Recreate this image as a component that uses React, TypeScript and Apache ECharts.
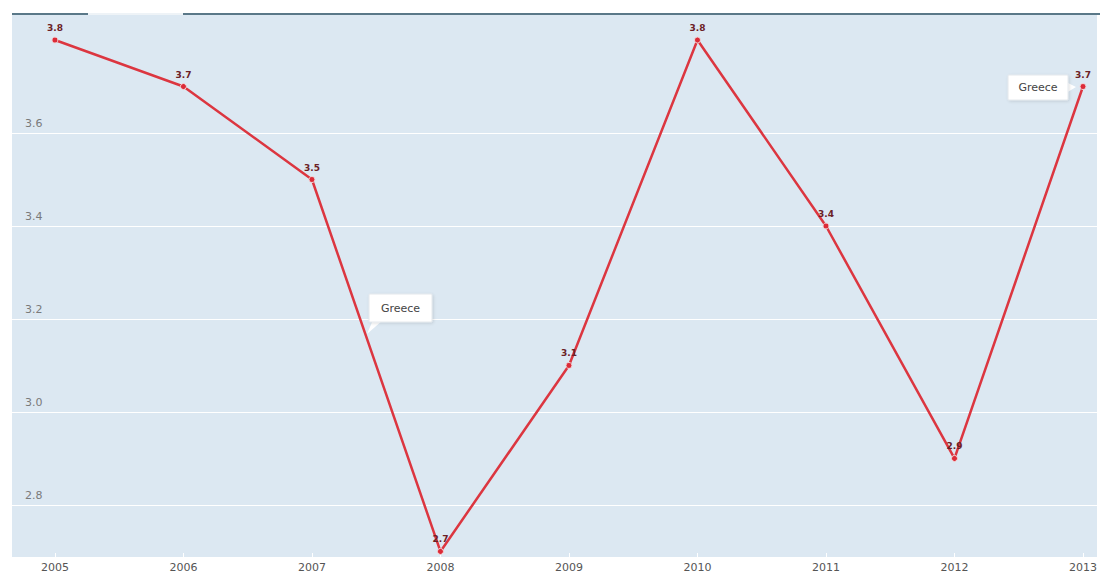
import React, { useEffect, useRef } from "react";
import * as echarts from "echarts";

const years = ["2005", "2006", "2007", "2008", "2009", "2010", "2011", "2012", "2013"];
const values = [3.8, 3.7, 3.5, 2.7, 3.1, 3.8, 3.4, 2.9, 3.7];
const yTicks = [2.8, 3.0, 3.2, 3.4, 3.6];
const seriesName = "Greece";

export default function App() {
  const ref = useRef<HTMLDivElement>(null);
  useEffect(() => {
    document.body.style.margin = "0";
    const chart = echarts.init(ref.current!, null, { renderer: "svg" });
    const font = "'DejaVu Sans', Verdana, sans-serif";
    const callout = (x: number, y: number, w: number, h: number, pointer: number[][]) => ({
      type: "group",
      z: 100,
      children: [
        {
          type: "polygon",
          shape: { points: pointer },
          style: { fill: "#ffffff" },
          z: 100,
        },
        {
          type: "rect",
          shape: { x, y, width: w, height: h, r: 1 },
          style: {
            fill: "#ffffff",
            stroke: "#e4e8ec",
            lineWidth: 1,
            shadowBlur: 3,
            shadowColor: "rgba(0,0,0,0.12)",
            shadowOffsetX: 1,
            shadowOffsetY: 1,
          },
          z: 101,
        },
        {
          type: "text",
          x: x + w / 2,
          y: y + h / 2,
          style: {
            text: seriesName,
            fill: "#444",
            font: `11px ${font}`,
            align: "center",
            verticalAlign: "middle",
          },
          z: 102,
        },
      ],
    });
    chart.setOption({
      animation: false,
      grid: {
        left: 12,
        right: 0,
        top: 14,
        bottom: 17,
        show: true,
        backgroundColor: "#dce8f2",
        borderWidth: 0,
      },
      xAxis: {
        type: "value",
        min: 2004.666,
        max: 2013.109,
        axisLine: { show: false },
        splitLine: { show: false },
        axisTick: {
          show: true,
          inside: true,
          length: 4,
          lineStyle: { color: "#ffffff", width: 1 },
          customValues: years.map(Number),
        },
        axisLabel: {
          color: "#555",
          fontSize: 11,
          fontFamily: font,
          margin: 5,
          customValues: years.map(Number),
          formatter: (v: number) => String(v),
        },
      },
      yAxis: {
        type: "value",
        min: 2.688,
        max: 3.856,
        show: false,
        splitLine: { show: false },
      },
      series: [
        {
          type: "line",
          data: [],
          z: 1,
          silent: true,
          markLine: {
            silent: true,
            symbol: "none",
            lineStyle: { color: "#ffffff", width: 1.2, type: "solid" },
            label: {
              show: true,
              position: "insideStartTop",
              formatter: (p: any) => Number(p.value).toFixed(1),
              color: "#7a7a7a",
              fontSize: 11,
              fontFamily: font,
              distance: [13, 4],
            },
            emphasis: { disabled: true },
            data: yTicks.map((v) => ({ yAxis: v })),
          },
        },
        {
          name: seriesName,
          type: "line",
          z: 5,
          data: years.map((y, i) => [Number(y), values[i]]),
          symbol: "circle",
          symbolSize: 6,
          itemStyle: { color: "#dc2b38", borderColor: "#f2d6d8", borderWidth: 1 },
          lineStyle: { color: "#dc3640", width: 2.5 },
          label: {
            show: true,
            position: "top",
            distance: 4,
            formatter: (p: any) => p.value[1].toFixed(1),
            color: "#6b2025",
            fontSize: 9,
            fontWeight: "bold",
            fontFamily: font,
          },
        },
      ],
      graphic: [
        {
          type: "line",
          shape: { x1: 12, y1: 14, x2: 88, y2: 14 },
          style: { stroke: "#5a7888", lineWidth: 2 },
          z: 50,
        },
        {
          type: "line",
          shape: { x1: 88, y1: 14, x2: 183, y2: 14 },
          style: { stroke: "#eef3f7", lineWidth: 2 },
          z: 50,
        },
        {
          type: "line",
          shape: { x1: 183, y1: 14, x2: 1100, y2: 14 },
          style: { stroke: "#5a7888", lineWidth: 2 },
          z: 50,
        },
        callout(369, 294, 63, 28, [
          [373, 320],
          [383, 320],
          [367, 334],
        ]),
        callout(1008, 75, 60, 25, [
          [1066, 82],
          [1066, 93],
          [1076, 87],
        ]),
      ],
    });
    return () => chart.dispose();
  }, []);
  return (
    <div
      ref={ref}
      style={{ position: "absolute", left: 0, top: 0, width: 1100, height: 574 }}
    />
  );
}
